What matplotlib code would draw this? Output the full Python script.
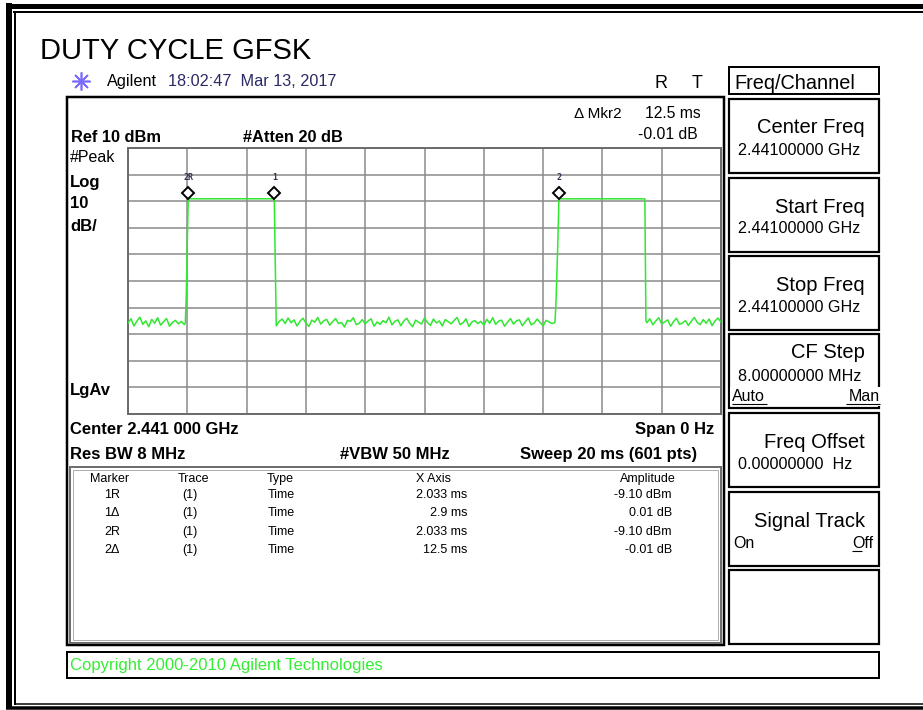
import matplotlib.pyplot as plt
import numpy as np
from matplotlib.patches import Rectangle
from matplotlib import transforms

plt.rcParams['font.family'] = ['Liberation Sans', 'DejaVu Sans']

# ---- screen settings ----
SWEEP_MS = 20.0
REF_DBM = 10
DB_PER_DIV = 10

# ---- trace (ms, dBm) ----
# noise floor samples, every 0.1 ms
noise_a_start, noise_a = 0.0, [
    -55.8, -54.2, -56.9, -55.1, -53.6, -56.3, -55.0, -57.2, -54.4, -55.9,
    -53.8, -56.6, -55.3, -54.1, -57.0, -55.6, -54.8, -56.1, -55.2, -56.4]
noise_b_start, noise_b = 5.0, [
    -56.8, -55.2, -54.3, -56.0, -53.9, -55.7, -54.6, -56.9, -55.1, -54.0,
    -55.8, -57.1, -54.7, -55.5, -53.7, -56.2, -55.0, -54.4, -56.6, -55.3,
    -54.1, -56.0, -55.6, -57.3, -54.8, -55.2, -53.8, -56.4, -55.9, -54.5,
    -56.1, -55.0, -54.2, -57.0, -55.4, -56.3, -54.9, -55.7, -53.6, -56.5,
    -55.2, -54.6, -56.8, -55.1, -54.0, -55.9, -57.2, -54.7, -55.5, -56.2,
    -53.9, -55.6, -56.7, -54.3, -55.8, -55.0, -56.9, -54.5, -55.3, -56.1,
    -54.8, -53.7, -56.4, -55.7, -54.2, -57.1, -55.4, -54.9, -56.0, -55.2,
    -56.6, -54.4, -55.9, -53.8, -56.3, -55.1, -54.7, -57.0, -55.5, -54.1,
    -56.2, -55.0, -54.6, -56.8, -55.3, -53.9, -56.5, -55.8, -54.3, -55.6,
    -56.9, -54.8, -55.4, -56.0]
noise_c_start, noise_c = 17.5, [
    -55.7, -54.2, -56.5, -55.0, -53.8, -56.1, -55.4, -54.6, -57.0, -55.2,
    -54.0, -56.3, -55.8, -54.9, -56.7, -55.1, -53.7, -55.6, -56.4, -54.5,
    -55.9, -54.3, -56.8, -55.0, -53.9, -55.5]
NOISE_STEP_MS = 0.1

# burst 1: edges and flat top
burst1_ms = [1.933, 1.967, 2.000, 2.033, 4.933, 4.967]
burst1_dbm = [-55.8, -45.0, -25.0, -9.10, -9.09, -33.0]
# burst 2
burst2_ms = [14.400, 14.433, 14.500, 14.533, 17.433, 17.467]
burst2_dbm = [-55.6, -48.5, -24.5, -9.11, -9.11, -55.0]

# ---- markers ----
marker_names = ['2R', '1', '2']
marker_ms = [2.033, 4.933, 14.533]
marker_dbm = [-9.10, -9.09, -9.11]

# ---- marker table ----
table_header = ['Marker', 'Trace', 'Type', 'X Axis', 'Amplitude']
table_marker = ['1R', '1\u0394', '2R', '2\u0394']
table_trace = ['(1)', '(1)', '(1)', '(1)']
table_type = ['Time', 'Time', 'Time', 'Time']
table_xaxis = ['2.033 ms', '2.9 ms', '2.033 ms', '12.5 ms']
table_amp = ['-9.10 dBm', '0.01 dB', '-9.10 dBm', '-0.01 dB']

# ---- softkeys ----
softkey_titles = ['Center Freq', 'Start Freq', 'Stop Freq', 'CF Step',
                  'Freq Offset', 'Signal Track', '']
softkey_values = ['2.44100000 GHz', '2.44100000 GHz', '2.44100000 GHz',
                  '8.00000000 MHz', '0.00000000  Hz', '', '']

# build the trace
def noise_times(start, vals):
    return list(np.round(start + NOISE_STEP_MS * np.arange(len(vals)), 3))

trace_ms = (noise_times(noise_a_start, noise_a) + burst1_ms
            + noise_times(noise_b_start, noise_b) + burst2_ms
            + noise_times(noise_c_start, noise_c))
trace_dbm = noise_a + burst1_dbm + noise_b + burst2_dbm + noise_c

W, H = 923, 710
fig = plt.figure(figsize=(W / 100, H / 100), dpi=100)

# pixel-space overlay for the instrument frame
bg = fig.add_axes([0, 0, 1, 1])
bg.set_xlim(0, W)
bg.set_ylim(H, 0)
bg.axis('off')

def box(x0, y0, x1, y1, lw=2.0, color='black'):
    bg.add_patch(Rectangle((x0, y0), x1 - x0, y1 - y0, fill=False,
                           lw=lw * 0.72, ec=color))

def hline(y, x0, x1, lw, z=2):
    bg.plot([x0, x1], [y, y], color='black', lw=lw * 0.72,
            solid_capstyle='butt', zorder=z)

def vline(x, y0, y1, lw):
    bg.plot([x, x], [y0, y1], color='black', lw=lw * 0.72, solid_capstyle='butt')

def txt(x, y, s, size=11, ha='left', color='black', weight='normal', **kw):
    bg.text(x, y, s, fontsize=size, ha=ha, va='baseline', color=color,
            fontweight=weight, **kw)

# outer double border (open on the right)
hline(5.5, 6, W, 5)
hline(11.8, 13, W, 2)
vline(9, 3, 709, 6)
vline(15, 11, 705, 2)
hline(704, 14, W, 1.5)
hline(707.5, 6, W, 3.5)

txt(40, 59, 'DUTY CYCLE GFSK', size=21)

# header line
bg.plot([81], [81], marker=(8, 2, 0), ms=13, color='#7a6cff', mew=1.2)
txt(107, 86, 'Agilent', size=11.7)
txt(168, 86, '18:02:47  Mar 13, 2017', size=11.7, color='#2a2a66')
txt(655, 88, 'R', size=13)
txt(692, 88, 'T', size=13)

# main screen frame
box(67, 97, 724, 645, lw=2.5)
txt(622, 118, '\u0394 Mkr2', size=11, ha='right')
txt(701, 118, '12.5 ms', size=11.3, ha='right')
txt(698, 139, '-0.01 dB', size=11.3, ha='right')
txt(71, 142, 'Ref 10 dBm', size=11.8, weight='bold')
txt(243, 142, '#Atten 20 dB', size=11.8, weight='bold')
txt(70, 162, '#Peak', size=11.5)
txt(70, 187, 'Log', size=12, weight='bold')
txt(70, 208, '10', size=12, weight='bold')
txt(70, 231, 'dB/', size=12, weight='bold')
txt(70, 395, 'LgAv', size=12, weight='bold')
txt(70, 434, 'Center 2.441 000 GHz', size=12, weight='bold')
txt(714, 434, 'Span 0 Hz', size=12, weight='bold', ha='right')
txt(70, 459, 'Res BW 8 MHz', size=12, weight='bold')
txt(340, 459, '#VBW 50 MHz', size=12, weight='bold')
txt(697, 459, 'Sweep 20 ms (601 pts)', size=12, weight='bold', ha='right')

# marker table
box(70, 467, 721, 643, lw=2, color='#6e6e6e')
box(73, 470, 718, 640, lw=1, color='#b0b0b0')
col_x = [110, 193, 280, 433, 648]
for x, h in zip(col_x, table_header):
    txt(x, 482, h, size=9, ha='center')
for i, y in enumerate([498, 516, 535, 553]):
    txt(112, y, table_marker[i], size=9, ha='center')
    txt(190, y, table_trace[i], size=9, ha='center')
    txt(268, y, table_type[i], size=9)
    txt(467, y, table_xaxis[i], size=9, ha='right')
    txt(672, y, table_amp[i], size=9, ha='right')

# copyright bar
box(67, 652, 879, 678, lw=2)
txt(70, 670, 'Copyright 2000-2010 Agilent Technologies', size=12, color='#33ee33')

# softkey panel
box(729, 67, 879, 94, lw=2)
txt(734, 89, 'Freq/Channel', size=14.3)
key_tops = [99, 178, 256, 334, 413, 492, 570]
title_dy = [34, 35, 35, 24, 35, 35, 0]
value_dy = [56, 55, 56, 47, 56, 0, 0]
for top, title, val, tdy, vdy in zip(key_tops, softkey_titles, softkey_values,
                                     title_dy, value_dy):
    box(729, top, 879, top + 74, lw=2.2)
    if title:
        txt(865, top + tdy, title, size=14.5, ha='right')
    if val:
        txt(738, top + vdy, val, size=11.6)
white = dict(facecolor='white', edgecolor='none', pad=1.5)
txt(732, 401, 'Auto', size=11.5, bbox=white)
txt(880, 401, 'Man', size=11.5, ha='right', bbox=white)
hline(404, 732, 767, 1.1, z=5)
hline(404, 846, 880, 1.1, z=5)
txt(733, 548, 'On', size=11.5)
txt(873, 548, 'Off', size=11.5, ha='right')
hline(551, 852, 862, 1.1, z=5)

# ---- graticule and trace ----
gx0, gx1, gy0, gy1 = 128, 721, 148, 414
ax = fig.add_axes([gx0 / W, 1 - gy1 / H, (gx1 - gx0) / W, (gy1 - gy0) / H])
ax.set_xlim(0, SWEEP_MS)
ax.set_ylim(REF_DBM - 10 * DB_PER_DIV, REF_DBM)
ax.set_xticks(np.linspace(0, SWEEP_MS, 11))
ax.set_yticks(np.arange(REF_DBM - 10 * DB_PER_DIV, REF_DBM + 1, DB_PER_DIV))
ax.tick_params(length=0, labelbottom=False, labelleft=False)
ax.grid(True, color='#8a8a8a', lw=1.1)
for sp in ax.spines.values():
    sp.set_color('#6a6a6a')
    sp.set_linewidth(1.4)

ax.plot(trace_ms, trace_dbm, color='#30e830', lw=1.1, zorder=3)

# markers drawn just above the trace point
diamond_tf = transforms.offset_copy(ax.transData, fig=fig, x=0, y=4.5, units='points')
ax.plot(marker_ms, marker_dbm, ls='none', marker='D', ms=6.5, mfc='white',
        mec='black', mew=1.4, transform=diamond_tf, zorder=4)
for name, t, a in zip(marker_names, marker_ms, marker_dbm):
    ax.annotate(name, (t, a), xytext=(0, 15.5), textcoords='offset points',
                ha='center', va='center', fontsize=6, fontweight='bold',
                family='DejaVu Sans Mono', color='#333355', zorder=4)

fig.savefig('out.png', dpi=100)
